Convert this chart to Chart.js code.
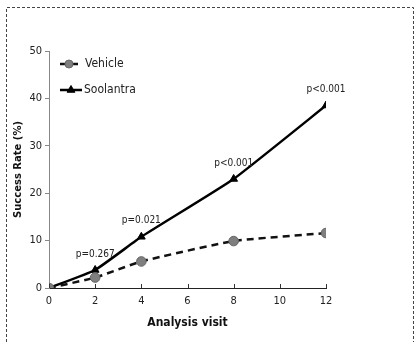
<!DOCTYPE html>
<html>
<head>
<meta charset="utf-8">
<script src="https://cdn.jsdelivr.net/npm/chart.js@4"></script>
<style>
  html, body { margin: 0; padding: 0; background: #fff; }
  #wrap { position: relative; width: 415px; height: 342px; }
</style>
</head>
<body>
<div id="wrap"><canvas id="chart" width="415" height="342"></canvas></div>
<script>
const visits = [0, 2, 4, 8, 12];
const vehicle = [0, 2.2, 5.6, 9.9, 11.6];
const soolantra = [0, 3.8, 10.8, 23, 38.5];
const pLabels = ["", "p=0.267", "p=0.021", "p<0.001", "p<0.001"];
const xTicks = [0, 2, 4, 6, 8, 10, 12];
const yTicks = [0, 10, 20, 30, 40, 50];

const narrow = "'Liberation Sans Narrow', 'DejaVu Sans Condensed', sans-serif";

function toXY(values) {
    return visits.map((v, i) => ({x: v, y: values[i]}));
}

// dashed frame round the picture
const framePlugin = {
    id: 'frame',
    beforeDraw(c) {
        const ctx = c.ctx;
        ctx.save();
        ctx.strokeStyle = '#444';
        ctx.lineWidth = 1;
        ctx.setLineDash([3, 2]);
        ctx.beginPath();
        ctx.moveTo(6.5, 342);
        ctx.lineTo(6.5, 7.5);
        ctx.lineTo(413.5, 7.5);
        ctx.lineTo(413.5, 342);
        ctx.stroke();
        ctx.restore();
    }
};

// p-values over the Soolantra points, legend inside the plot, small x ticks
const notesPlugin = {
    id: 'notes',
    afterDatasetsDraw(c) {
        const ctx = c.ctx;
        const xs = c.scales.x, ys = c.scales.y;
        ctx.save();
        ctx.fillStyle = '#222';
        ctx.font = "10px " + narrow;
        ctx.textAlign = 'center';
        ctx.textBaseline = 'bottom';
        pLabels.forEach((t, i) => {
            if (!t) return;
            ctx.fillText(t, xs.getPixelForValue(visits[i]), ys.getPixelForValue(soolantra[i]) - 11);
        });

        // x ticks pointing up
        ctx.strokeStyle = '#333';
        ctx.lineWidth = 1;
        ctx.setLineDash([]);
        xTicks.forEach(v => {
            const px = Math.round(xs.getPixelForValue(v)) + 0.5;
            ctx.beginPath();
            ctx.moveTo(px, ys.bottom);
            ctx.lineTo(px, ys.bottom - 4);
            ctx.stroke();
        });

        // legend
        const items = [
            {ds: c.data.datasets[0], y: 64, x0: 60, x1: 78, gap: 3, r: 4, text: 'Vehicle', tx: 85},
            {ds: c.data.datasets[1], y: 90, x0: 60, x1: 82, gap: 0, r: 4.5, text: 'Soolantra', tx: 84}
        ];
        items.forEach(it => {
            const mid = (it.x0 + it.x1) / 2;
            ctx.strokeStyle = it.ds.borderColor;
            ctx.lineWidth = it.ds.borderWidth;
            ctx.setLineDash([]);
            ctx.beginPath();
            ctx.moveTo(it.x0, it.y);
            ctx.lineTo(mid - it.gap, it.y);
            ctx.moveTo(mid + it.gap, it.y);
            ctx.lineTo(it.x1, it.y);
            ctx.stroke();
            ctx.fillStyle = it.ds.pointBackgroundColor;
            ctx.strokeStyle = it.ds.pointBorderColor;
            ctx.lineWidth = 1;
            Chart.helpers.drawPoint(ctx, {
                pointStyle: it.ds.pointStyle,
                radius: it.r,
                borderWidth: 1
            }, mid, it.y);
            ctx.fillStyle = '#222';
            ctx.font = "12px " + narrow;
            ctx.textAlign = 'left';
            ctx.textBaseline = 'middle';
            ctx.fillText(it.text, it.tx, it.y);
        });
        ctx.restore();
    }
};

new Chart(document.getElementById('chart'), {
    type: 'line',
    data: {
        datasets: [
            {
                label: 'Vehicle',
                data: toXY(vehicle),
                borderColor: '#111',
                borderWidth: 2.5,
                borderDash: [7, 5],
                pointStyle: 'circle',
                pointRadius: 4.8,
                pointBackgroundColor: '#7f7f7f',
                pointBorderColor: '#666',
                pointBorderWidth: 1,
                tension: 0.15
            },
            {
                label: 'Soolantra',
                data: toXY(soolantra),
                borderColor: '#000',
                borderWidth: 2.5,
                pointStyle: 'triangle',
                pointRadius: 4.5,
                pointBackgroundColor: '#000',
                pointBorderColor: '#000',
                pointBorderWidth: 1,
                tension: 0.12
            }
        ]
    },
    options: {
        responsive: false,
        animation: false,
        layout: {padding: {left: 12, top: 51, right: 89, bottom: 12}},
        plugins: {legend: {display: false}, tooltip: {enabled: false}},
        scales: {
            x: {
                type: 'linear',
                min: 0, max: 12,
                afterBuildTicks: s => { s.ticks = xTicks.map(v => ({value: v})); },
                afterFit: s => { s.height = 42; },
                grid: {drawOnChartArea: false, drawTicks: false},
                border: {color: '#222', width: 1},
                ticks: {color: '#222', font: {family: narrow, size: 11}, padding: 7},
                title: {
                    display: true, text: 'Analysis visit', color: '#111',
                    font: {family: narrow, size: 12, weight: 'bold'},
                    padding: {top: 0, bottom: 0}
                }
            },
            y: {
                min: 0, max: 50,
                afterBuildTicks: s => { s.ticks = yTicks.map(v => ({value: v})); },
                afterFit: s => { s.width = 37; },
                grid: {drawOnChartArea: false, tickLength: 4, color: '#888'},
                border: {color: '#888', width: 1},
                ticks: {color: '#222', font: {family: narrow, size: 11}, padding: 3},
                title: {
                    display: true, text: 'Success Rate (%)', color: '#111',
                    font: {family: "'DejaVu Sans', sans-serif", size: 10, weight: 'bold'},
                    padding: {top: 0, bottom: 4}
                }
            }
        }
    },
    plugins: [framePlugin, notesPlugin]
});
</script>
</body>
</html>
